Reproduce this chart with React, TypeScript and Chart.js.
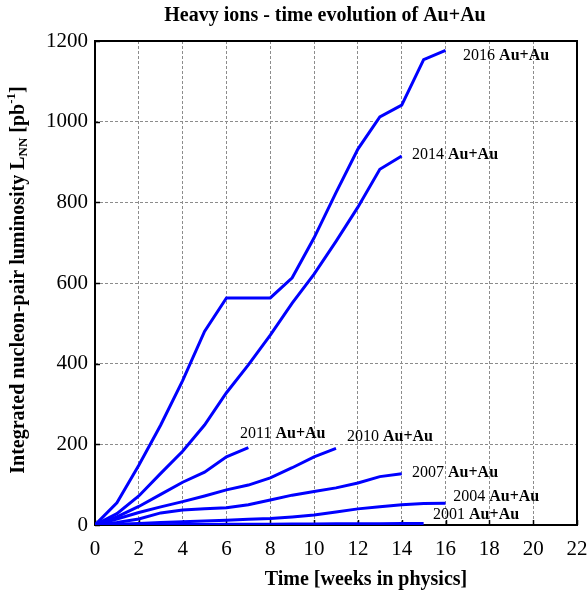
import React, { useEffect, useRef } from "react";
import { Chart, registerables } from "chart.js";

Chart.register(...registerables);

// ---- data (integrated luminosity, pb^-1, per week in physics) ----
const runNames = ["2016", "2014", "2011", "2010", "2007", "2004", "2001"];
const lumi2016 = [0, 55, 148, 248, 358, 480, 563, 563, 563, 613, 712, 824, 932, 1012, 1041, 1154, 1177];
const lumi2014 = [0, 28, 72, 128, 183, 248, 328, 397, 471, 550, 622, 703, 788, 882, 915];
const lumi2011 = [0, 20, 46, 76, 106, 131, 169, 192];
const lumi2010 = [0, 15, 31, 45, 58, 72, 87, 99, 117, 142, 169, 190];
const lumi2007 = [0, 6, 15, 30, 37, 40, 43, 50, 62, 74, 83, 92, 104, 120, 127];
const lumi2004 = [0, 2, 4, 6, 8, 10, 12, 14, 16, 20, 25, 32, 40, 45, 50, 53, 54];
const lumi2001 = [0, 0.3, 0.6, 0.9, 1.2, 1.4, 1.7, 1.9, 2.1, 2.4, 2.6, 2.8, 3.0, 3.2, 3.5, 3.7];
const allSeries = [lumi2016, lumi2014, lumi2011, lumi2010, lumi2007, lumi2004, lumi2001];

// label anchors (data units: week, luminosity)
const labelWeek = [16.8, 14.47, 6.62, 11.5, 14.47, 16.35, 15.43];
const labelLumi = [1163, 917, 226, 218, 129, 69, 25];

const xMax = 22;
const yMax = 1200;

const W = 588;
const H = 594;
const SERIF = '"Liberation Serif", "Times New Roman", serif';

const decor = {
  id: "decor",
  beforeDraw(chart: any) {
    const ctx = chart.ctx;
    ctx.save();
    ctx.fillStyle = "#fff";
    ctx.fillRect(0, 0, chart.width, chart.height);
    ctx.restore();
  },
  beforeDatasetsDraw(chart: any) {
    const ctx = chart.ctx;
    const { left, right, top, bottom } = chart.chartArea;
    const xs = chart.scales.x;
    const ys = chart.scales.y;
    ctx.save();
    // frame
    ctx.strokeStyle = "#000";
    ctx.lineWidth = 2;
    ctx.strokeRect(left, top, right - left, bottom - top);
    // inward ticks
    ctx.lineWidth = 1.5;
    ctx.beginPath();
    xs.ticks.forEach((t: any) => {
      const px = Math.round(xs.getPixelForValue(t.value)) + 0.5;
      ctx.moveTo(px, bottom);
      ctx.lineTo(px, bottom - 5);
    });
    ys.ticks.forEach((t: any) => {
      const py = Math.round(ys.getPixelForValue(t.value)) + 0.5;
      ctx.moveTo(left, py);
      ctx.lineTo(left + 5, py);
    });
    ctx.stroke();
    ctx.restore();
  },
  afterDraw(chart: any) {
    const ctx = chart.ctx;
    const xs = chart.scales.x;
    const ys = chart.scales.y;
    ctx.save();
    // series labels
    ctx.fillStyle = "#000";
    ctx.textBaseline = "middle";
    ctx.textAlign = "left";
    runNames.forEach((name, i) => {
      const px = xs.getPixelForValue(labelWeek[i]);
      const py = ys.getPixelForValue(labelLumi[i]);
      ctx.font = `16px ${SERIF}`;
      const t1 = name + " ";
      ctx.fillText(t1, px, py);
      const w1 = ctx.measureText(t1).width;
      ctx.font = `bold 16px ${SERIF}`;
      ctx.fillText("Au+Au", px + w1, py);
    });

    // chart title
    ctx.font = `bold 20px ${SERIF}`;
    ctx.textAlign = "center";
    ctx.fillText("Heavy ions - time evolution of Au+Au", 325, 16);

    // x-axis title
    ctx.fillText("Time [weeks in physics]", 366, 580);

    // y-axis title with sub/superscripts
    const parts = [
      { t: "Integrated nucleon-pair luminosity L", s: 20, dy: 0 },
      { t: "NN", s: 13, dy: 5 },
      { t: " [pb", s: 20, dy: 0 },
      { t: "-1", s: 13, dy: -7 },
      { t: "]", s: 20, dy: 0 },
    ];
    let total = 0;
    parts.forEach((p) => {
      ctx.font = `bold ${p.s}px ${SERIF}`;
      total += ctx.measureText(p.t).width;
    });
    ctx.translate(19, 280);
    ctx.rotate(-Math.PI / 2);
    ctx.textAlign = "left";
    let cx = -total / 2;
    parts.forEach((p) => {
      ctx.font = `bold ${p.s}px ${SERIF}`;
      ctx.fillText(p.t, cx, p.dy);
      cx += ctx.measureText(p.t).width;
    });
    ctx.restore();
  },
};

export default function App() {
  const ref = useRef<HTMLCanvasElement | null>(null);
  useEffect(() => {
    if (!ref.current) return;
    const chart = new Chart(ref.current, {
      type: "line",
      data: {
        datasets: allSeries.map((vals, i) => ({
          label: runNames[i],
          data: vals.map((v, k) => ({ x: k, y: v })),
          borderColor: "#0000ff",
          backgroundColor: "#0000ff",
          borderWidth: 3,
          pointRadius: 0,
          tension: 0,
          fill: false,
        })),
      },
      options: {
        responsive: false,
        animation: false,
        devicePixelRatio: 1,
        layout: { padding: { left: 0, right: 11, top: 41, bottom: 0 } },
        plugins: {
          legend: { display: false },
          title: { display: false },
          tooltip: { enabled: false },
        },
        scales: {
          x: {
            type: "linear",
            min: 0,
            max: xMax,
            ticks: {
              stepSize: 2,
              color: "#000",
              font: { family: SERIF, size: 21 },
              padding: 12,
              maxRotation: 0,
              callback: (v: any) => String(v),
            },
            grid: { color: "#8c8c8c", lineWidth: 1, drawTicks: false },
            border: { display: false, dash: [3, 2] },
            afterFit(scale: any) {
              scale.height = H - 525;
              scale.paddingLeft = 0;
              scale.paddingRight = 0;
            },
          },
          y: {
            type: "linear",
            min: 0,
            max: yMax,
            ticks: {
              stepSize: 200,
              color: "#000",
              font: { family: SERIF, size: 21 },
              padding: 7,
              callback: (v: any) => String(v),
            },
            grid: { color: "#8c8c8c", lineWidth: 1, drawTicks: false },
            border: { display: false, dash: [3, 2] },
            afterFit(scale: any) {
              scale.width = 95;
              scale.paddingTop = 0;
              scale.paddingBottom = 0;
            },
          },
        },
      },
      plugins: [decor],
    });
    return () => chart.destroy();
  }, []);
  return (
    <div style={{ position: "fixed", left: 0, top: 0, width: W, height: H, background: "#fff" }}>
      <canvas ref={ref} width={W} height={H} style={{ display: "block" }} />
    </div>
  );
}
